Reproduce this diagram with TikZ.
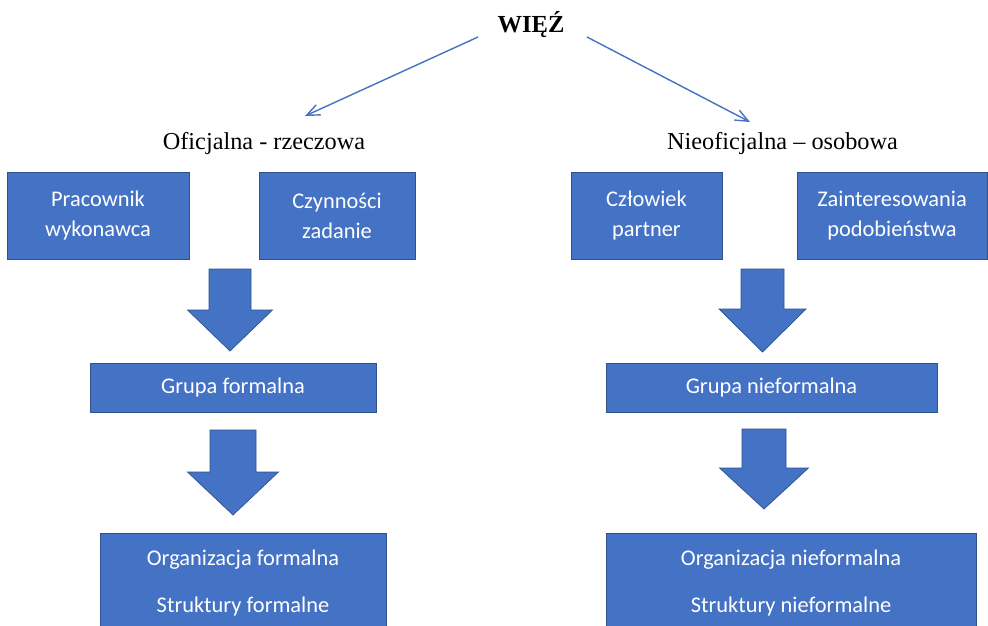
\documentclass[tikz,border=0pt]{standalone}
\usepackage{fontspec}
\setmainfont{Liberation Serif}
\newfontfamily\carlitofont{Carlito}
\usetikzlibrary{arrows.meta}
\definecolor{boxblue}{HTML}{4472C4}
\definecolor{boxedge}{HTML}{2F528F}
\tikzset{
  bluebox/.style={rectangle, fill=boxblue, draw=boxedge, line width=0.9pt, inner sep=0pt,
    text=white, align=center, font=\carlitofont\fontsize{22.4}{30}\selectfont},
  boxtext/.style={inner sep=0pt, text=white, align=center, font=\carlitofont\fontsize{22.4}{30}\selectfont},
  serlabel/.style={anchor=base, inner sep=0pt, font=\fontsize{24.3}{28}\selectfont},
  thinarrow/.style={draw=boxblue, line width=1.4pt, -{Straight Barb[length=13pt,width=11pt,line width=1.4pt]}},
  blockarrow/.style={fill=boxblue, draw=boxedge, line width=0.7pt, line join=miter}
}
\begin{document}
\begin{tikzpicture}[x=1pt,y=-1pt]
\useasboundingbox (0,0) rectangle (988,625);
\clip (0,0) rectangle (988,625);
\fill[white] (0,0) rectangle (988,625);

% title and labels
\node[serlabel, font=\bfseries\fontsize{24.5}{28}\selectfont] (wiez) at (531,32) {WIĘŹ};
\node[serlabel] (ofic) at (264,149) {Oficjalna - rzeczowa};
\node[serlabel] (nieofic) at (782.5,149) {Nieoficjalna – osobowa};

\coordinate (s1) at (478,37);
\coordinate (e1) at (305,116);
\coordinate (s2) at (587,37);
\coordinate (e2) at (750,122);
\draw[thinarrow] (s1) -- (e1);
\draw[thinarrow] (s2) -- (e2);

% top boxes
\node[bluebox, minimum width=182pt, minimum height=87pt] (prac) at (98,216) {Pracownik\\wykonawca};
\node[bluebox, minimum width=156pt, minimum height=87pt] (czyn) at (337,216) {Czynności\\zadanie};
\node[bluebox, minimum width=151pt, minimum height=87pt] (czlo) at (646.5,216) {Człowiek\\partner};
\node[bluebox, minimum width=190pt, minimum height=87pt] (zain) at (892,216) {Zainteresowania\\podobieństwa};

% group boxes
\node[bluebox, minimum width=286pt, minimum height=49pt] (grf) at (233,387.5) {Grupa formalna};
\node[bluebox, minimum width=331pt, minimum height=49pt] (grn) at (771.5,387.5) {Grupa nieformalna};

% organisation boxes (run off the bottom edge)
\node[bluebox, anchor=north, minimum width=286pt, minimum height=130pt] (orgfbox) at (243,533) {};
\node[bluebox, anchor=north, minimum width=370pt, minimum height=130pt] (orgnbox) at (791,533) {};
\node[boxtext] (orgf) at (243,583) {Organizacja formalna\\[17pt]Struktury formalne};
\node[boxtext] (orgn) at (791,583) {Organizacja nieformalna\\[17pt]Struktury nieformalne};

% block arrows
\draw[blockarrow] (209,269) -- (251,269) -- (251,310) -- (272.5,310) -- (230,351) -- (187.5,310) -- (209,310) -- cycle;
\draw[blockarrow] (210,430) -- (256,430) -- (256,472) -- (278.5,472) -- (233,515) -- (187.5,472) -- (210,472) -- cycle;
\draw[blockarrow] (741,269) -- (784,269) -- (784,309) -- (806,309) -- (762.5,352) -- (719,309) -- (741,309) -- cycle;
\draw[blockarrow] (742,429) -- (786,429) -- (786,468) -- (808.5,468) -- (764,509) -- (719.5,468) -- (742,468) -- cycle;
\end{tikzpicture}
\end{document}
